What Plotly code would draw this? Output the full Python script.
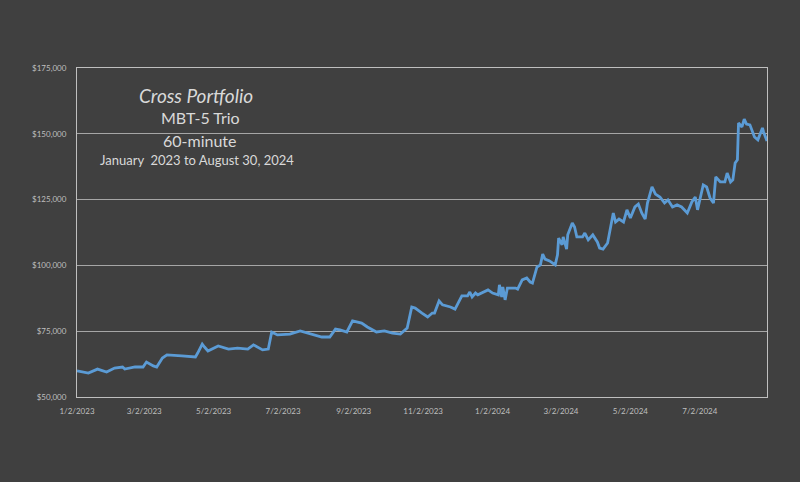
import plotly.graph_objects as go

dates = [
    "2023-01-02", "2023-01-12", "2023-01-20", "2023-01-28", "2023-02-04", "2023-02-11", "2023-02-13",
    "2023-02-22", "2023-03-01", "2023-03-04", "2023-03-10", "2023-03-13", "2023-03-18", "2023-03-22",
    "2023-04-04", "2023-04-16", "2023-04-18", "2023-04-22", "2023-04-24", "2023-04-27", "2023-05-06",
    "2023-05-15", "2023-05-23", "2023-06-01", "2023-06-06", "2023-06-14", "2023-06-19", "2023-06-22",
    "2023-06-27", "2023-07-08", "2023-07-17", "2023-07-26", "2023-08-05", "2023-08-12", "2023-08-17",
    "2023-08-21", "2023-08-27", "2023-09-01", "2023-09-09", "2023-09-14", "2023-09-22", "2023-09-29",
    "2023-10-06", "2023-10-13", "2023-10-19", "2023-10-23", "2023-10-26", "2023-11-01", "2023-11-06",
    "2023-11-10", "2023-11-12", "2023-11-16", "2023-11-19", "2023-11-26", "2023-11-30", "2023-12-06",
    "2023-12-11", "2023-12-13", "2023-12-15", "2023-12-18", "2023-12-20", "2023-12-29", "2024-01-02",
    "2024-01-07", "2024-01-08", "2024-01-10", "2024-01-11", "2024-01-13", "2024-01-15", "2024-01-22",
    "2024-01-24", "2024-01-28", "2024-02-01", "2024-02-04", "2024-02-06", "2024-02-10", "2024-02-13",
    "2024-02-15", "2024-02-17", "2024-02-21", "2024-02-26", "2024-02-28", "2024-02-29", "2024-03-03",
    "2024-03-04", "2024-03-07", "2024-03-08", "2024-03-12", "2024-03-14", "2024-03-16", "2024-03-21",
    "2024-03-23", "2024-03-26", "2024-03-30", "2024-04-03", "2024-04-05", "2024-04-08", "2024-04-12",
    "2024-04-17", "2024-04-19", "2024-04-22", "2024-04-26", "2024-04-29", "2024-05-02", "2024-05-06",
    "2024-05-09", "2024-05-12", "2024-05-15", "2024-05-17", "2024-05-21", "2024-05-24", "2024-05-28",
    "2024-06-01", "2024-06-04", "2024-06-08", "2024-06-12", "2024-06-16", "2024-06-21", "2024-06-25",
    "2024-06-28", "2024-06-30", "2024-07-05", "2024-07-08", "2024-07-11", "2024-07-14", "2024-07-16",
    "2024-07-20", "2024-07-24", "2024-07-26", "2024-07-29", "2024-07-31", "2024-08-02", "2024-08-04",
    "2024-08-05", "2024-08-08", "2024-08-10", "2024-08-12", "2024-08-15", "2024-08-18", "2024-08-19",
    "2024-08-22", "2024-08-26", "2024-08-27", "2024-08-30",
]

equity = [
    59900, 59100, 60600, 59500, 61000, 61400, 60600,
    61400, 61400, 63300, 61800, 61400, 64800, 66000,
    65600, 65200, 66700, 70100, 69000, 67500, 69400,
    68200, 68600, 68200, 69800, 67900, 68200, 74700,
    73600, 73900, 75100, 73900, 72800, 72800, 75800,
    75500, 74700, 78900, 78100, 76600, 74700, 75100,
    74300, 73900, 76200, 84200, 83800, 81900, 80400,
    81900, 81900, 86500, 85000, 84200, 83400, 88400,
    88400, 89900, 88000, 89500, 88800, 90700, 89500,
    88800, 92600, 88000, 91800, 86900, 91400, 91400,
    91000, 94500, 95200, 93700, 93300, 99400, 100200,
    104300, 102400, 101700, 100200, 104000, 110400, 107800,
    110800, 106200, 111600, 116100, 114600, 110800, 110800,
    112300, 109700, 111600, 108900, 106600, 106200, 108500,
    119900, 116500, 117600, 116500, 121100, 118000, 122200,
    123300, 119900, 117600, 123700, 129800, 127100, 126000,
    123700, 124900, 122200, 123000, 122200, 119900, 124100,
    126000, 121100, 130600, 129800, 125600, 123700, 133600,
    131700, 131700, 135100, 131700, 132500, 138900, 140100,
    154100, 152600, 155600, 153700, 153400, 150300, 148800,
    147700, 152200, 150700, 147300,
]

tick_dates = ["2023-01-02", "2023-03-02", "2023-05-02", "2023-07-02", "2023-09-02",
              "2023-11-02", "2024-01-02", "2024-03-02", "2024-05-02", "2024-07-02"]
tick_labels = ["1/2/2023", "3/2/2023", "5/2/2023", "7/2/2023", "9/2/2023",
               "11/2/2023", "1/2/2024", "3/2/2024", "5/2/2024", "7/2/2024"]

y_ticks = [50000, 75000, 100000, 125000, 150000, 175000]
y_labels = ["$50,000", "$75,000", "$100,000", "$125,000", "$150,000", "$175,000"]

title_lines = ["Cross Portfolio", "MBT-5 Trio", "60-minute", "January  2023 to August 30, 2024"]

BG = "#404040"
TXT = "#d9d9d9"
TICK = "#bfbfbf"
FONT = "Lato, Open Sans, sans-serif"

fig = go.Figure()
fig.add_trace(go.Scatter(
    x=dates, y=equity, mode="lines",
    line=dict(color="#5b9bd5", width=2.8),
    hoverinfo="x+y",
))

fig.update_layout(
    width=800, height=482,
    margin=dict(l=77, r=33, t=68, b=85),
    paper_bgcolor=BG, plot_bgcolor=BG,
    showlegend=False,
    font=dict(family=FONT, color=TICK, size=8),
)
fig.update_xaxes(
    type="date", range=["2023-01-02", "2024-08-30"],
    tickvals=tick_dates, ticktext=tick_labels,
    tickfont=dict(size=8, color=TICK),
    showgrid=False, zeroline=False,
    showline=True, linecolor="#bfbfbf", linewidth=1, mirror=True,
    ticks="", ticklabelstandoff=6,
)
fig.update_yaxes(
    range=[50000, 175000], tickvals=y_ticks, ticktext=y_labels,
    tickfont=dict(size=8, color=TICK),
    showgrid=True, gridcolor="#a6a6a6", gridwidth=1, zeroline=False,
    showline=True, linecolor="#bfbfbf", linewidth=1, mirror=True,
    ticks="", ticklabelstandoff=8,
)

fig.add_annotation(x=196, y=95, xref="paper", yref="paper", text="<i>" + title_lines[0] + "</i>",
                   showarrow=False, font=dict(size=19, color=TXT, family=FONT))
fig.add_annotation(x=200, y=117, xref="paper", yref="paper", text=title_lines[1],
                   showarrow=False, font=dict(size=16, color=TXT, family=FONT))
fig.add_annotation(x=200, y=140, xref="paper", yref="paper", text=title_lines[2],
                   showarrow=False, font=dict(size=16, color=TXT, family=FONT))
fig.add_annotation(x=197, y=160, xref="paper", yref="paper", text=title_lines[3],
                   showarrow=False, font=dict(size=13, color=TXT, family=FONT))

# convert pixel positions for annotations into paper coords
pw, ph = 800 - 77 - 33, 482 - 68 - 85
for ann in fig.layout.annotations:
    px, py = ann.x, ann.y
    ann.x = (px - 77) / pw
    ann.y = 1 - (py - 68) / ph
    ann.xanchor = "center"
    ann.yanchor = "middle"

fig.write_html("out.html")
